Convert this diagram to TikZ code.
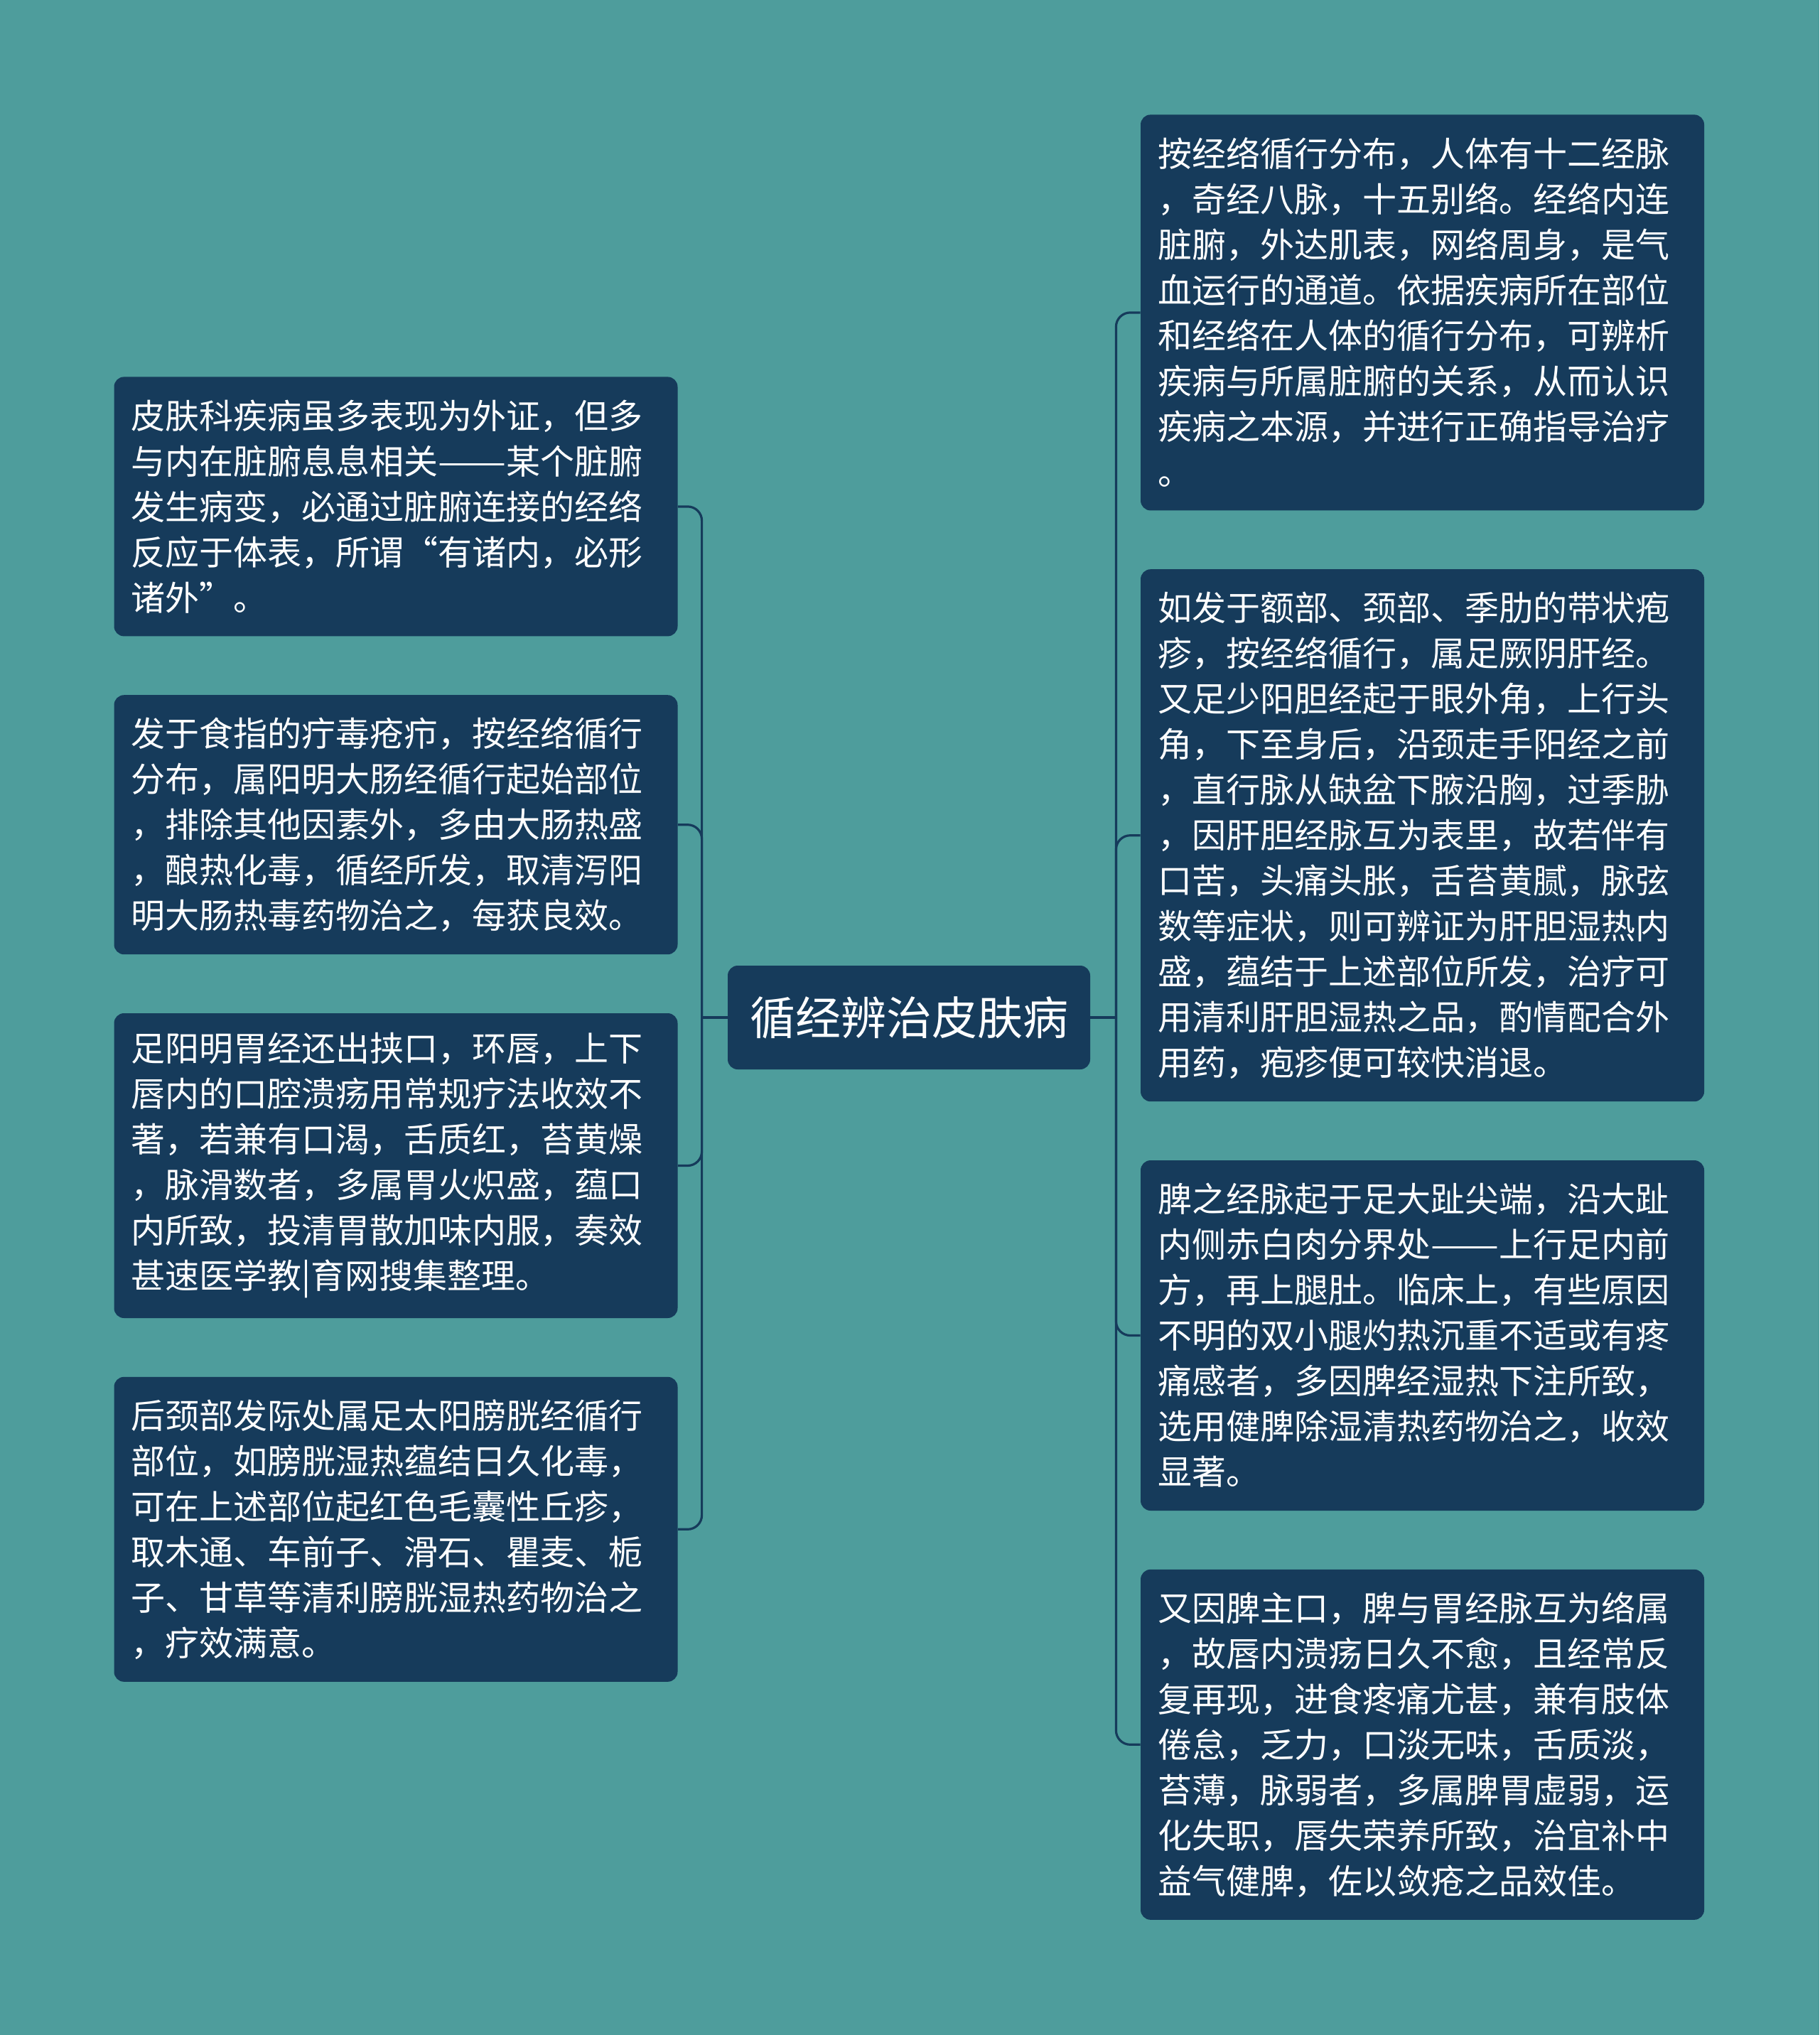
\documentclass[tikz,border=0pt]{standalone}
\usepackage{fontspec}
\usepackage{graphicx}
\newfontfamily\cjk{Noto Sans CJK SC}
\usepackage{tikz}
\usetikzlibrary{positioning}

\definecolor{bgteal}{RGB}{78,157,156}
\definecolor{navy}{RGB}{22,59,91}
\newcommand\dashpair{\resizebox{2em}{\height}{——}}

\begin{document}
\begin{tikzpicture}[
    topic/.style={fill=navy, rounded corners=7pt, text=white, inner sep=0pt,
      minimum width=255pt, minimum height=73pt,
      font=\cjk\fontsize{32pt}{40pt}\selectfont},
    leaf/.style={fill=navy, rounded corners=7pt, text=white, align=left,
      text width=372.5pt, inner xsep=12pt, inner ysep=0pt, anchor=north,
      font=\cjk\fontsize{24pt}{32pt}\selectfont},
    link/.style={draw=navy, line width=1.6pt},
    node distance=41pt]
    \fill[bgteal] (0,0) rectangle (1280pt,-1432pt);

    \node[topic] (root) at (639.5pt,-716pt) {循经辨治皮肤病};

    \node[leaf, minimum height=182.5pt] (l1) at (278.5pt,-265pt)
      {皮肤科疾病虽多表现为外证，但多\\与内在脏腑息息相关\dashpair 某个脏腑\\发生病变，必通过脏腑连接的经络\\反应于体表，所谓“有诸内，必形\\诸外”。};
    \node[leaf, minimum height=182.5pt] (l2) [below=of l1]
      {发于食指的疔毒疮疖，按经络循行\\分布，属阳明大肠经循行起始部位\\，排除其他因素外，多由大肠热盛\\，酿热化毒，循经所发，取清泻阳\\明大肠热毒药物治之，每获良效。};
    \node[leaf, minimum height=214.5pt] (l3) [below=of l2]
      {足阳明胃经还出挟口，环唇，上下\\唇内的口腔溃疡用常规疗法收效不\\著，若兼有口渴，舌质红，苔黄燥\\，脉滑数者，多属胃火炽盛，蕴口\\内所致，投清胃散加味内服，奏效\\甚速医学教|育网搜集整理。};
    \node[leaf, minimum height=214.5pt] (l4) [below=of l3]
      {后颈部发际处属足太阳膀胱经循行\\部位，如膀胱湿热蕴结日久化毒，\\可在上述部位起红色毛囊性丘疹，\\取木通、车前子、滑石、瞿麦、栀\\子、甘草等清利膀胱湿热药物治之\\，疗效满意。};

    \node[leaf, minimum height=278.5pt] (r1) at (1000.75pt,-80.5pt)
      {按经络循行分布，人体有十二经脉\\，奇经八脉，十五别络。经络内连\\脏腑，外达肌表，网络周身，是气\\血运行的通道。依据疾病所在部位\\和经络在人体的循行分布，可辨析\\疾病与所属脏腑的关系，从而认识\\疾病之本源，并进行正确指导治疗\\。};
    \node[leaf, minimum height=374.5pt] (r2) [below=of r1]
      {如发于额部、颈部、季肋的带状疱\\疹，按经络循行，属足厥阴肝经。\\又足少阳胆经起于眼外角，上行头\\角，下至身后，沿颈走手阳经之前\\，直行脉从缺盆下腋沿胸，过季胁\\，因肝胆经脉互为表里，故若伴有\\口苦，头痛头胀，舌苔黄腻，脉弦\\数等症状，则可辨证为肝胆湿热内\\盛，蕴结于上述部位所发，治疗可\\用清利肝胆湿热之品，酌情配合外\\用药，疱疹便可较快消退。};
    \node[leaf, minimum height=246.5pt] (r3) [below=of r2]
      {脾之经脉起于足大趾尖端，沿大趾\\内侧赤白肉分界处\dashpair 上行足内前\\方，再上腿肚。临床上，有些原因\\不明的双小腿灼热沉重不适或有疼\\痛感者，多因脾经湿热下注所致，\\选用健脾除湿清热药物治之，收效\\显著。};
    \node[leaf, minimum height=246.5pt] (r4) [below=of r3]
      {又因脾主口，脾与胃经脉互为络属\\，故唇内溃疡日久不愈，且经常反\\复再现，进食疼痛尤甚，兼有肢体\\倦怠，乏力，口淡无味，舌质淡，\\苔薄，脉弱者，多属脾胃虚弱，运\\化失职，唇失荣养所致，治宜补中\\益气健脾，佐以敛疮之品效佳。};

    \coordinate[left=18pt of root.west] (ljoin);
    \coordinate[right=18pt of root.east] (rjoin);

    \draw[link] (root.west) -- (ljoin);
    \draw[link] (root.east) -- (rjoin);
    \foreach \n in {l1,l2,l3,l4}
      \draw[link, rounded corners=10pt] (ljoin) |- (\n.east);
    \foreach \n in {r1,r2,r3,r4}
      \draw[link, rounded corners=10pt] (rjoin) |- (\n.west);
  \end{tikzpicture}
\end{document}
